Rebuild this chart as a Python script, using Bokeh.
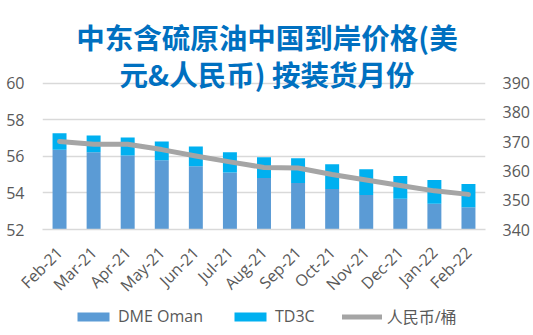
import math
from bokeh.plotting import figure
from bokeh.layouts import column
from bokeh.models import (FactorRange, Range1d, LinearAxis, FixedTicker, Legend,
                          LegendItem, ColumnDataSource, Label)
from bokeh.embed import file_html
from bokeh.resources import INLINE

months = ["Feb-21", "Mar-21", "Apr-21", "May-21", "Jun-21", "Jul-21", "Aug-21",
          "Sep-21", "Oct-21", "Nov-21", "Dec-21", "Jan-22", "Feb-22"]
dme_oman = [56.36, 56.22, 56.04, 55.78, 55.46, 55.12, 54.81, 54.54, 54.22, 53.89, 53.68, 53.41, 53.21]
td3c = [0.90, 0.92, 0.99, 1.03, 1.08, 1.10, 1.14, 1.35, 1.35, 1.41, 1.24, 1.29, 1.28]
rmb_per_bbl = [370.1, 369.1, 369.1, 367.3, 365.1, 363.1, 361.2, 361.0, 358.8, 356.9, 355.0, 353.2, 352.0]
left_ticks = [52, 54, 56, 58, 60]
right_ticks = [340, 350, 360, 370, 380, 390]
title_lines = ["中东含硫原油中国到岸价格(美", "元&人民币) 按装货月份"]
series_names = ["DME Oman", "TD3C", "人民币/桶"]

FONT = "'Open Sans', 'Noto Sans CJK SC'"
GREY_TXT = "#595959"
BAR_COLORS = ["#5B9BD5", "#00B0F0"]
LINE_COLOR = "#A5A5A5"

# layout (pixels): plot area spans y 83..230; the frame is extended up to the
# top of the canvas so that the title can sit inside it without being clipped
PLOT_TOP, PLOT_BOTTOM = 83, 230
ext = PLOT_TOP / (PLOT_BOTTOM - PLOT_TOP)  # fraction of the value span above the top tick
l_span = left_ticks[-1] - left_ticks[0]
r_span = right_ticks[-1] - right_ticks[0]

source = ColumnDataSource(dict(month=months, dme=dme_oman, td3c=td3c, rmb=rmb_per_bbl))

# ---------------- main chart ----------------
p = figure(x_range=FactorRange(factors=months),
           y_range=Range1d(left_ticks[0], left_ticks[-1] + ext * l_span),
           width=533, height=306, output_backend="svg", toolbar_location=None,
           min_border_left=42, min_border_right=48, min_border_top=0, min_border_bottom=76)
p.extra_y_ranges = {"rmb": Range1d(right_ticks[0], right_ticks[-1] + ext * r_span)}
p.outline_line_color = None
p.background_fill_color = "white"
p.border_fill_color = "white"

bars = p.vbar_stack(["dme", "td3c"], x="month", width=0.41, source=source,
                    fill_color=BAR_COLORS, line_color=None)
line_r = p.line(x="month", y="rmb", source=source, y_range_name="rmb",
                line_color=LINE_COLOR, line_width=5, line_cap="round", line_join="round")

p.xgrid.grid_line_color = None
p.ygrid.grid_line_color = "#D9D9D9"
p.ygrid.grid_line_width = 1.5
p.yaxis[0].ticker = FixedTicker(ticks=left_ticks)

raxis = LinearAxis(y_range_name="rmb", ticker=FixedTicker(ticks=right_ticks))
p.add_layout(raxis, "right")

for ax in [p.xaxis[0], p.yaxis[0], raxis]:
    ax.axis_line_color = None
    ax.major_tick_line_color = None
    ax.minor_tick_line_color = None
    ax.major_tick_out = 0
    ax.major_tick_in = 0
    ax.minor_tick_out = 0
    ax.minor_tick_in = 0
    ax.major_label_text_font = FONT
    ax.major_label_text_font_size = "16px"
    ax.major_label_text_color = GREY_TXT

p.yaxis[0].major_label_standoff = 18
raxis.major_label_standoff = 17
p.xaxis[0].major_label_orientation = math.pi / 4
p.xaxis[0].major_label_standoff = 20
p.xaxis[0].axis_line_color = "#D9D9D9"
p.xaxis[0].axis_line_width = 1.5

# title, two centred lines (screen units are measured from the frame's bottom-left)
for text, y in zip(title_lines, [PLOT_BOTTOM - 36.5, PLOT_BOTTOM - 73.5]):
    p.add_layout(Label(x=266.5 - 42, y=y, x_units="screen", y_units="screen", text=text,
                       text_align="center", text_baseline="middle",
                       text_font="Noto Sans CJK SC", text_font_style="bold",
                       text_font_size="28.5px", text_color="#0070C0"))

# ---------------- legend strip ----------------
lg = figure(x_range=FactorRange(factors=months), y_range=Range1d(1000, 1001),
            width=533, height=29, output_backend="svg", toolbar_location=None,
            x_axis_type=None, y_axis_type=None,
            min_border_left=0, min_border_right=0, min_border_top=0, min_border_bottom=0)
lg.outline_line_color = None
lg.xgrid.grid_line_color = None
lg.ygrid.grid_line_color = None
lg_bars = lg.vbar_stack(["dme", "td3c"], x="month", width=0.41, source=source,
                        fill_color=BAR_COLORS, line_color=None)
lg_line = lg.line(x="month", y="rmb", source=source, line_color=LINE_COLOR,
                  line_width=5, line_cap="round")

legend = Legend(items=[LegendItem(label=series_names[0], renderers=[lg_bars[0]]),
                       LegendItem(label=series_names[1], renderers=[lg_bars[1]]),
                       LegendItem(label=series_names[2], renderers=[lg_line])],
                orientation="horizontal", location=(31, 7),
                glyph_width=40, glyph_height=11, label_height=20, label_standoff=5, spacing=27,
                padding=0, margin=0, border_line_color=None, background_fill_alpha=0,
                label_text_font=FONT, label_text_font_size="16px",
                label_text_color=GREY_TXT)
lg.add_layout(legend)

layout = column(p, lg, spacing=0)
open("out.html", "w").write(file_html(layout, INLINE))
